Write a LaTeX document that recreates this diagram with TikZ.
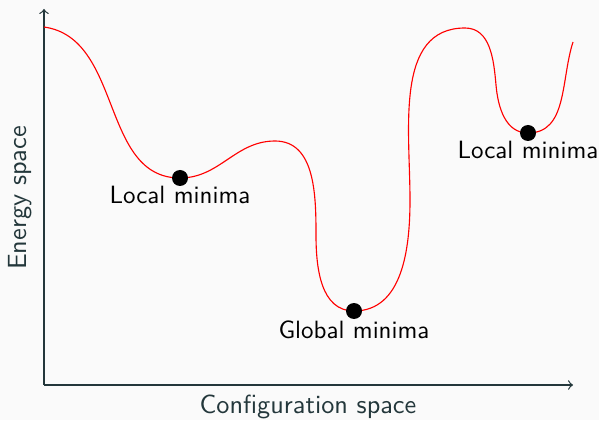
\documentclass[tikz,border=0pt]{standalone}
\usepackage{tikz}
\usetikzlibrary{arrows}
\usetikzlibrary{positioning}
\definecolor{darkteal}{RGB}{35,55,59}
\definecolor{bgcol}{RGB}{250,250,250}

\begin{document}
\begin{tikzpicture}[x=0.4pt,y=0.4pt,font=\sffamily,
		dot/.style={circle,fill=black,inner sep=0pt,minimum size=6.4pt},
		axis/.style={->,draw=darkteal,line width=0.5pt},
		axlabel/.style={text=darkteal,font=\sffamily\fontsize{10.5}{12}\selectfont}]
	\fill[bgcol] (0,0) rectangle (599,420);
	\useasboundingbox (0,0) rectangle (599,420);

	% axes

	\coordinate (O) at (44,35);
	\coordinate (X) at (573,35);
	\coordinate (Y) at (44,411);
	\draw[axis] (O) -- (X);
	\draw[axis] (O) -- (Y);
	\node[axlabel] (xl) at (308,13) {Configuration space};
	\node[axlabel,rotate=90] (yl) at (20,222) {Energy space};

	% energy

	\draw[red,line width=0.45pt] (44,393) to[out=-8,in=180] (180,242)
		to[out=0,in=180] (275,279) to[out=0,in=90] (316,185)
		to[out=-90,in=180] (354,109) to[out=0,in=-90] (410,220)
		to[out=90,in=180] (465,392) to[out=0,in=95] (496,335)
		to[out=-85,in=180] (528,287) to[out=0,in=-108] (573,378);

	% minima

	\node[dot] (m1) at (180,242) {};
	\node[dot] (g) at (354,109) {};
	\node[dot] (m2) at (528,287) {};
	\node[below=-3.5pt of m1] (m1l) {Local minima};
	\node[below=-3pt of g] (gl) {Global minima};
	\node[below=-3.5pt of m2] (m2l) {Local minima};
\end{tikzpicture}
\end{document}
